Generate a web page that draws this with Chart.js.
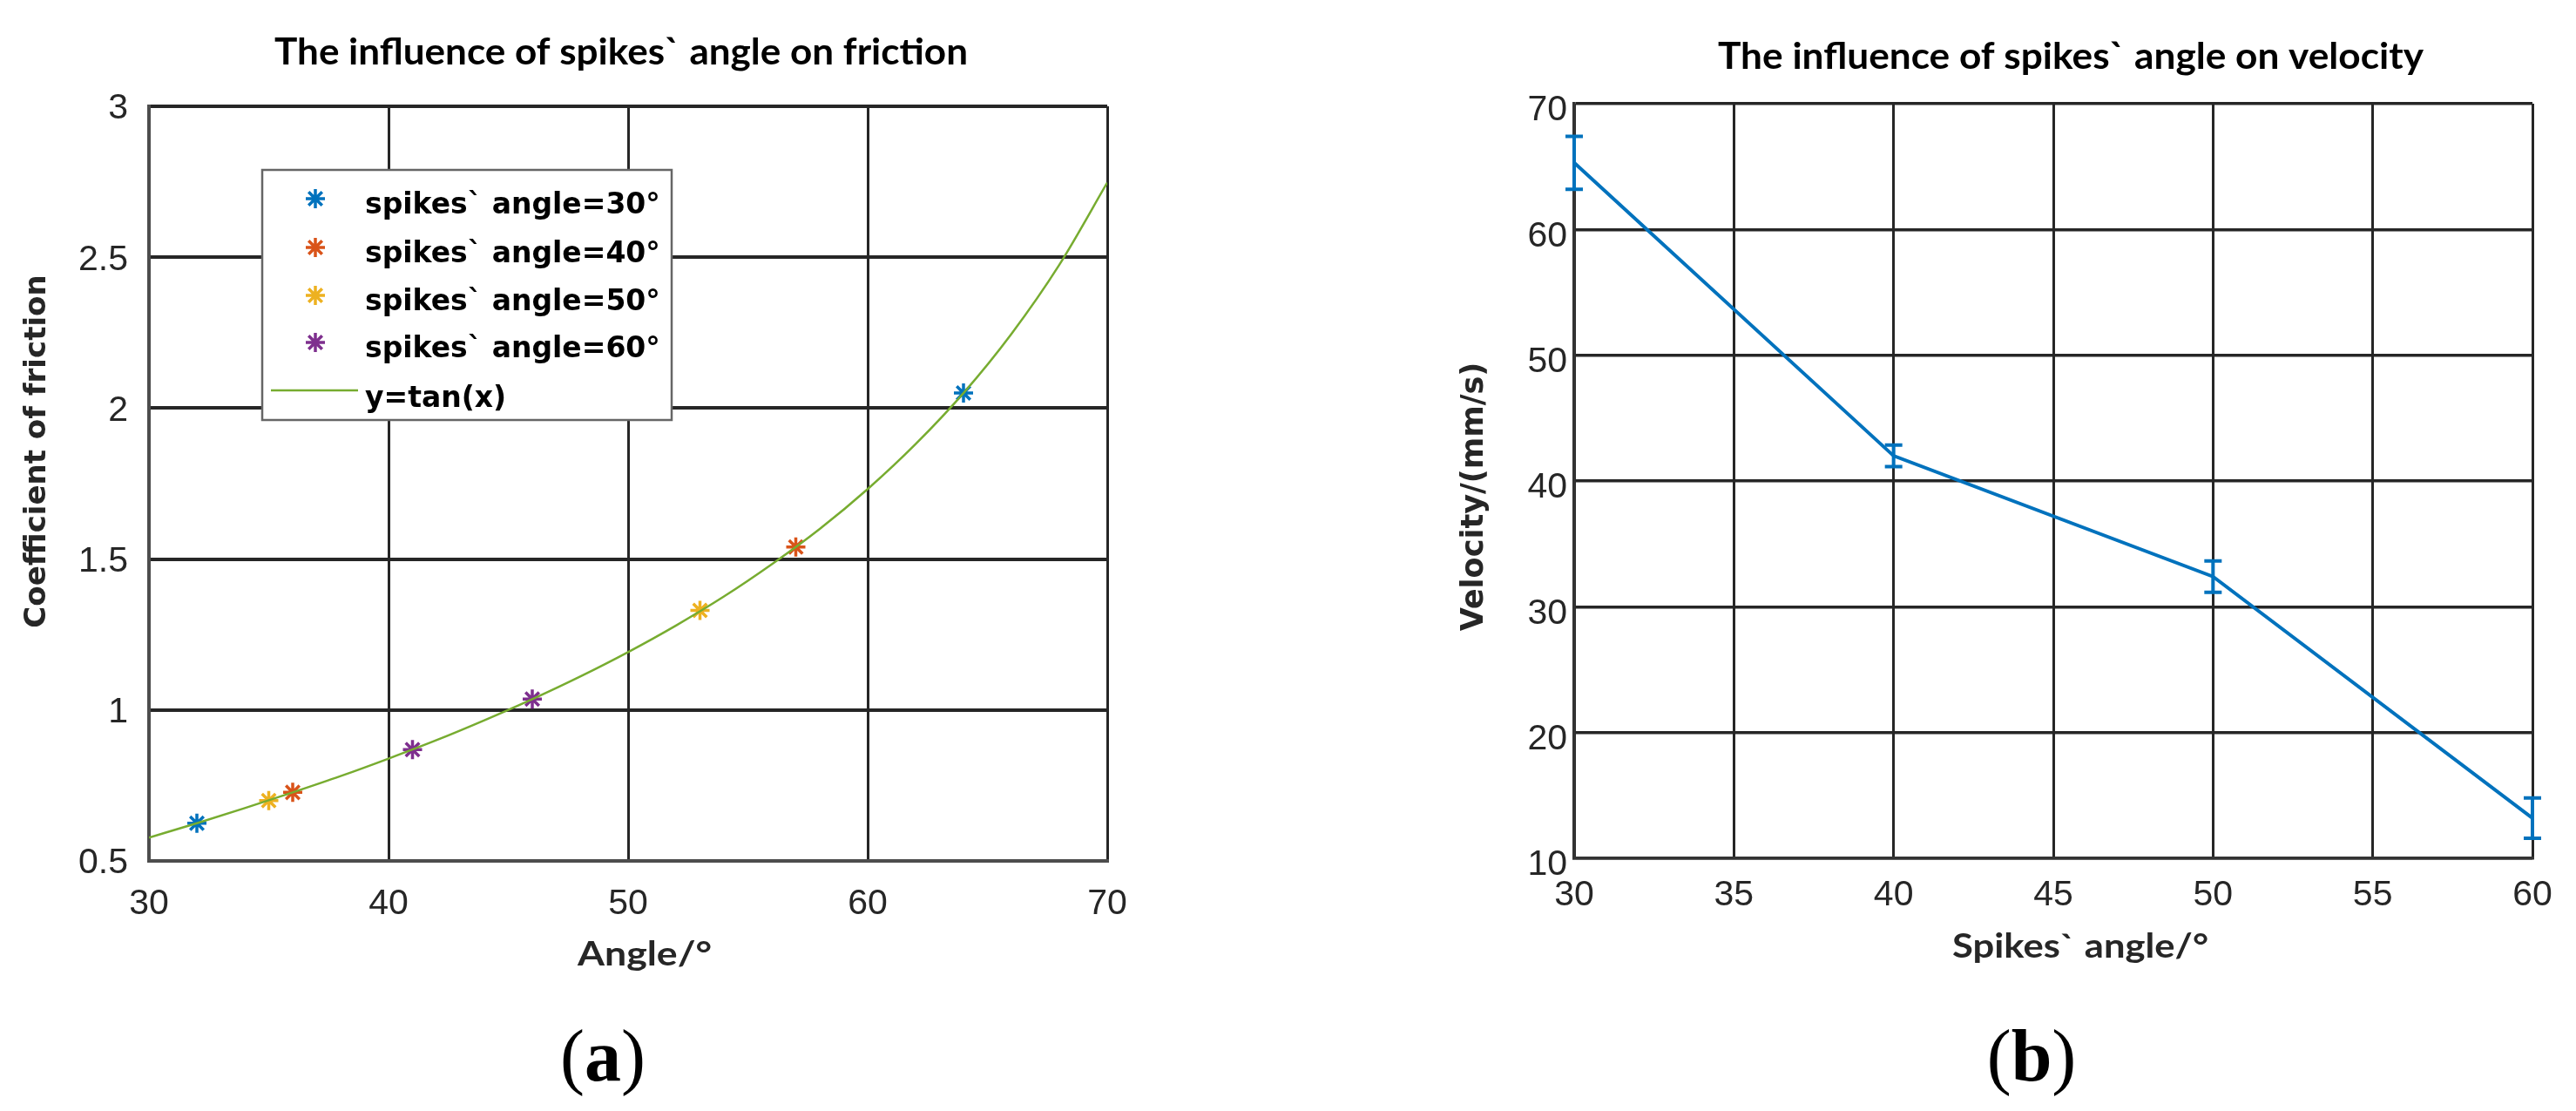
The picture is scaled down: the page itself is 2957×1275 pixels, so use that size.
<!DOCTYPE html>
<html>
<head>
<meta charset="utf-8">
<script src="https://cdn.jsdelivr.net/npm/chart.js@4.4.1/dist/chart.umd.min.js"></script>
<style>
    html, body { margin: 0; padding: 0; background: #fff; }
    #wrap { position: relative; width: 2957px; height: 1275px; }
    canvas { position: absolute; top: 0; }
    #chart-a { left: 0; }
    #chart-b { left: 1500px; }
</style>
</head>
<body>
<div id="wrap">
    <canvas id="chart-a" width="1450" height="1275"></canvas>
    <canvas id="chart-b" width="1457" height="1275"></canvas>
</div>
<script>
// (a) coefficient of friction vs angle
const frictionXTicks = [30, 40, 50, 60, 70];
const frictionYTicks = [0.5, 1, 1.5, 2, 2.5, 3];
const spikeLabels = ['spikes` angle=30°', 'spikes` angle=40°', 'spikes` angle=50°', 'spikes` angle=60°'];
const spikeColors = ['#0072BD', '#D95319', '#EDB120', '#7E2F8E'];
const angle30 = [32, 64];
const friction30 = [0.625, 2.05];
const angle40 = [36, 57];
const friction40 = [0.727, 1.54];
const angle50 = [35, 53];
const friction50 = [0.70, 1.33];
const angle60 = [41, 46];
const friction60 = [0.869, 1.036];
const tanLabel = 'y=tan(x)';
const tanX = [30, 32, 34, 36, 38, 40, 42, 44, 46, 48, 50, 52, 54, 56, 58, 60, 62, 64, 66, 68, 70];
const tanY = [0.577, 0.625, 0.675, 0.727, 0.781, 0.839, 0.900, 0.966, 1.036, 1.111, 1.192,
              1.280, 1.376, 1.483, 1.600, 1.732, 1.881, 2.050, 2.246, 2.475, 2.747];

// (b) velocity vs spikes angle
const velocityXTicks = [30, 35, 40, 45, 50, 55, 60];
const velocityYTicks = [10, 20, 30, 40, 50, 60, 70];
const spikeAngles = [30, 40, 50, 60];
const velocity = [65.3, 42.0, 32.4, 13.2];
const velocityErr = [2.1, 0.85, 1.25, 1.6];

const TICK_FONT = { family: "'Liberation Sans', Arial, sans-serif", size: 41 };
const INK = '#262626';

function fitText(ctx, txt, x, y, font, color, width) {
    ctx.save();
    ctx.font = font;
    ctx.fillStyle = color;
    ctx.textAlign = 'center';
    ctx.textBaseline = 'alphabetic';
    const k = width ? width / ctx.measureText(txt).width : 1;
    ctx.translate(x, y);
    ctx.scale(k, 1);
    ctx.fillText(txt, 0, 0);
    ctx.restore();
}

function vText(ctx, txt, cx, cy, font, color) {
    ctx.save();
    ctx.translate(cx, cy);
    ctx.rotate(-Math.PI / 2);
    ctx.font = font;
    ctx.fillStyle = color;
    ctx.textAlign = 'center';
    ctx.textBaseline = 'middle';
    ctx.fillText(txt, 0, 0);
    ctx.restore();
}

// panel letter: thin parentheses, bold letter
function panelLetter(ctx, letter, cx, y) {
    const thin = "84px 'Liberation Serif', serif";
    const bold = "bold 84px 'Liberation Serif', serif";
    ctx.save();
    ctx.fillStyle = '#000';
    ctx.textBaseline = 'alphabetic';
    ctx.textAlign = 'left';
    ctx.font = thin;
    const wp = ctx.measureText('(').width;
    ctx.font = bold;
    const wl = ctx.measureText(letter).width;
    let x = cx - (2 * wp + wl) / 2;
    ctx.font = thin;
    ctx.fillText('(', x, y);
    x += wp;
    ctx.font = bold;
    ctx.fillText(letter, x, y);
    x += wl;
    ctx.font = thin;
    ctx.fillText(')', x, y);
    ctx.restore();
}

function asterisk(ctx, x, y, r, color) {
    ctx.save();
    ctx.strokeStyle = color;
    ctx.lineWidth = 3.5;
    ctx.beginPath();
    for (let a = 0; a < 4; a++) {
        const t = a * Math.PI / 4;
        ctx.moveTo(x - r * Math.cos(t), y - r * Math.sin(t));
        ctx.lineTo(x + r * Math.cos(t), y + r * Math.sin(t));
    }
    ctx.stroke();
    ctx.restore();
}

function pts(xs, ys) {
    return xs.map((x, i) => ({ x: x, y: ys[i] }));
}

function markerSet(label, color, xs, ys) {
    return {
        label: label,
        data: pts(xs, ys),
        showLine: false,
        pointStyle: 'star',
        pointRadius: 11,
        pointBorderWidth: 3.5,
        pointBorderColor: color,
        pointBackgroundColor: color,
        order: 1,
    };
}

const decorA = {
    id: 'decorA',
    afterDraw(chart) {
        const ctx = chart.ctx;
        fitText(ctx, 'The influence of spikes` angle on friction', 713, 74, "bold 42px Lato, sans-serif", '#000', 796);
        fitText(ctx, 'Angle/°', 740, 1108, "bold 39px Lato, sans-serif", INK, 154);
        vText(ctx, 'Coefficient of friction', 43, 518, "bold 34px 'DejaVu Sans', Verdana, sans-serif", INK);
        panelLetter(ctx, 'a', 692, 1240);

        // legend box
        ctx.save();
        ctx.fillStyle = '#fff';
        ctx.fillRect(301, 195, 470, 287);
        ctx.strokeStyle = '#666';
        ctx.lineWidth = 2.5;
        ctx.strokeRect(301, 195, 470, 287);
        ctx.restore();
        const rows = [228, 284, 339, 393];
        const legendFont = "bold 33px 'DejaVu Sans', Verdana, sans-serif";
        ctx.save();
        ctx.font = legendFont;
        ctx.fillStyle = '#000';
        ctx.textAlign = 'left';
        spikeLabels.forEach((lab, i) => {
            asterisk(ctx, 362, rows[i], 11, spikeColors[i]);
            ctx.fillText(lab, 419, rows[i] + 17);
        });
        ctx.strokeStyle = '#77AC30';
        ctx.lineWidth = 2.5;
        ctx.beginPath();
        ctx.moveTo(311, 448);
        ctx.lineTo(411, 448);
        ctx.stroke();
        ctx.fillText(tanLabel, 419, 448 + 19);
        ctx.restore();
    },
};

new Chart(document.getElementById('chart-a'), {
    type: 'scatter',
    data: {
        datasets: [
            markerSet(spikeLabels[0], spikeColors[0], angle30, friction30),
            markerSet(spikeLabels[1], spikeColors[1], angle40, friction40),
            markerSet(spikeLabels[2], spikeColors[2], angle50, friction50),
            markerSet(spikeLabels[3], spikeColors[3], angle60, friction60),
            {
                label: tanLabel,
                data: pts(tanX, tanY),
                showLine: true,
                borderColor: '#77AC30',
                borderWidth: 2.5,
                pointRadius: 0,
                cubicInterpolationMode: 'monotone',
                order: 0,
            },
        ],
    },
    options: {
        responsive: false,
        animation: false,
        devicePixelRatio: 1,
        events: [],
        layout: { padding: { top: 122, right: 179, left: 0, bottom: 0 } },
        plugins: { legend: { display: false }, tooltip: { enabled: false } },
        scales: {
            x: {
                type: 'linear',
                min: 30,
                max: 70,
                afterBuildTicks: (s) => { s.ticks = frictionXTicks.map(v => ({ value: v })); },
                afterFit: (s) => { s.height = 287; },
                grid: { color: INK, lineWidth: 3, drawTicks: false },
                border: { color: '#4d4d4d', width: 4 },
                ticks: { color: INK, font: TICK_FONT, padding: 25, maxRotation: 0, callback: v => String(v) },
            },
            y: {
                type: 'linear',
                min: 0.5,
                max: 3,
                afterBuildTicks: (s) => { s.ticks = frictionYTicks.map(v => ({ value: v })); },
                afterFit: (s) => { s.width = 171; },
                grid: { color: INK, lineWidth: 4, drawTicks: false },
                border: { color: '#4d4d4d', width: 4 },
                ticks: { color: INK, font: TICK_FONT, padding: 24, labelOffset: 3, callback: v => String(v) },
            },
        },
    },
    plugins: [decorA],
});

const decorB = {
    id: 'decorB',
    afterDatasetsDraw(chart) {
        const ctx = chart.ctx;
        const xs = chart.scales.x, ys = chart.scales.y;
        ctx.save();
        ctx.strokeStyle = '#0072BD';
        ctx.lineWidth = 4;
        spikeAngles.forEach((a, i) => {
            const px = xs.getPixelForValue(a);
            const top = ys.getPixelForValue(velocity[i] + velocityErr[i]);
            const bot = ys.getPixelForValue(velocity[i] - velocityErr[i]);
            ctx.beginPath();
            ctx.moveTo(px, top);
            ctx.lineTo(px, bot);
            ctx.moveTo(px - 10, top);
            ctx.lineTo(px + 10, top);
            ctx.moveTo(px - 10, bot);
            ctx.lineTo(px + 10, bot);
            ctx.stroke();
        });
        ctx.restore();
    },
    afterDraw(chart) {
        const ctx = chart.ctx;
        fitText(ctx, 'The influence of spikes` angle on velocity', 877, 79, "bold 42px Lato, sans-serif", '#000', 810);
        fitText(ctx, 'Spikes` angle/°', 888, 1099, "bold 39px Lato, sans-serif", INK, 294);
        vText(ctx, 'Velocity/(mm/s)', 193, 570, "bold 35px 'DejaVu Sans', Verdana, sans-serif", INK);
        panelLetter(ctx, 'b', 832, 1240);
    },
};

new Chart(document.getElementById('chart-b'), {
    type: 'line',
    data: {
        datasets: [{
            label: 'Velocity',
            data: pts(spikeAngles, velocity),
            borderColor: '#0072BD',
            borderWidth: 4,
            pointRadius: 0,
            tension: 0,
            clip: false,
        }],
    },
    options: {
        responsive: false,
        animation: false,
        devicePixelRatio: 1,
        events: [],
        layout: { padding: { top: 119, right: 50, left: 0, bottom: 0 } },
        plugins: { legend: { display: false }, tooltip: { enabled: false } },
        scales: {
            x: {
                type: 'linear',
                min: 30,
                max: 60,
                afterBuildTicks: (s) => { s.ticks = velocityXTicks.map(v => ({ value: v })); },
                afterFit: (s) => { s.height = 290; },
                grid: { color: INK, lineWidth: 3, drawTicks: false },
                border: { color: '#333', width: 3.5 },
                ticks: { color: INK, font: TICK_FONT, padding: 18, maxRotation: 0, callback: v => String(v) },
            },
            y: {
                type: 'linear',
                min: 10,
                max: 70,
                afterBuildTicks: (s) => { s.ticks = velocityYTicks.map(v => ({ value: v })); },
                afterFit: (s) => { s.width = 307; },
                grid: { color: INK, lineWidth: 3.5, drawTicks: false },
                border: { color: '#333', width: 3.5 },
                ticks: { color: INK, font: TICK_FONT, padding: 8, labelOffset: 8, callback: v => String(v) },
            },
        },
    },
    plugins: [decorB],
});
</script>
</body>
</html>
